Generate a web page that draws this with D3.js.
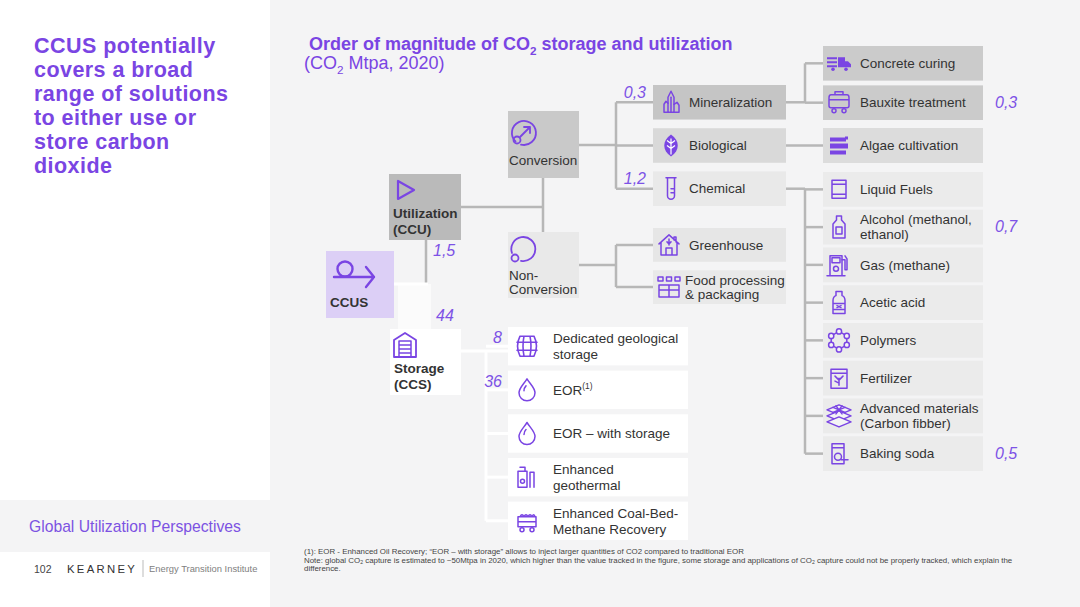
<!DOCTYPE html>
<html><head><meta charset="utf-8">
<script src="https://cdn.jsdelivr.net/npm/d3@7"></script>
<style>
html,body{margin:0;padding:0;background:#fff;}
svg{display:block;font-family:"Liberation Sans",Arial,Helvetica,sans-serif;}
</style></head><body>
<svg id="c" width="1080" height="607"></svg>
<script>
// ================= DATA =================
const headline = ["CCUS potentially","covers a broad","range of solutions","to either use or","store carbon","dioxide"];
const chartTitle = "Order of magnitude of CO₂ storage and utilization";
const chartSubtitle = "(CO₂ Mtpa, 2020)";
const rootLabel = "CCUS";
const topCategories = ["Utilization\n(CCU)", "Storage\n(CCS)"];
const topValues = [1.5, 44];
const utilizationPaths = ["Conversion", "Non-\nConversion"];
const conversionKids = ["Mineralization","Biological","Chemical"];
const conversionValues = [0.3, null, 1.2];
const nonConversionKids = ["Greenhouse","Food processing\n& packaging"];
const nonConversionValues = [null, null];
const mineralizationUses = ["Concrete curing","Bauxite treatment"];
const mineralizationValues = [null, 0.3];
const biologicalUses = ["Algae cultivation"];
const biologicalValues = [null];
const chemicalUses = ["Liquid Fuels","Alcohol (methanol,\nethanol)","Gas (methane)","Acetic acid","Polymers","Fertilizer","Advanced materials\n(Carbon fibber)","Baking soda"];
const chemicalValues = [null, 0.7, null, null, null, null, null, 0.5];
const storageKids = ["Dedicated geological\nstorage","EOR|(1)","EOR – with storage","Enhanced\ngeothermal","Enhanced Coal-Bed-\nMethane Recovery"];
const storageValues = [8, 36, null, null, null];
const footnotes = [
  "(1): EOR - Enhanced Oil Recovery; “EOR – with storage” allows to inject larger quantities of CO2 compared to traditional EOR",
  "Note: global CO₂ capture is estimated to ~50Mtpa in 2020, which higher than the value tracked in the figure, some storage and applications of CO₂ capture could not be properly tracked, which explain the",
  "difference."
];
const sectionLabel = "Global Utilization Perspectives";
const pageNumber = "102";
const brand = "KEARNEY";
const brandSub = "Energy Transition Institute";

// ================= STYLE =================
const PURPLE = "#7a45e3";
const NUMC = "#7d52e6";
const LINEC = "#b7b7b7";
const TEXTC = "#333333";
const BG = "#f4f4f5";
const fmt = d3.formatLocale({decimal:",", thousands:".", grouping:[3], currency:["",""]}).format("~g");

const svg = d3.select("#c");

// backgrounds
svg.append("rect").attr("x",270).attr("y",0).attr("width",810).attr("height",607).attr("fill",BG);
svg.append("rect").attr("x",0).attr("y",500).attr("width",270).attr("height",52).attr("fill",BG);

// rich text with subscript 2
function rich(sel, str, size) {
  const parts = str.split("₂");
  let pending = 0;
  parts.forEach((p, i) => {
    const t = sel.append("tspan").text(p);
    if (pending) { t.attr("dy", pending); pending = 0; }
    if (i < parts.length - 1) {
      sel.append("tspan").attr("font-size", size*0.65).attr("dy", size*0.25).text("2");
      pending = -size*0.25;
    }
  });
}

// ---------- left panel ----------
svg.append("g").selectAll("text").data(headline).join("text")
  .attr("x",34).attr("y",(d,i)=>53+i*24)
  .attr("font-size",21.5).attr("letter-spacing",0.45).attr("font-weight","bold").attr("fill",PURPLE).text(d=>d);

svg.append("text").attr("x",29).attr("y",532).attr("font-size",15.7).attr("fill","#7c52e2").text(sectionLabel);
svg.append("text").attr("x",34).attr("y",573).attr("font-size",10.5).attr("fill","#444").text(pageNumber);
svg.append("text").attr("x",67).attr("y",573).attr("font-size",11.3).attr("letter-spacing",2.3).attr("fill","#333").text(brand);
svg.append("line").attr("x1",143).attr("x2",143).attr("y1",560).attr("y2",577).attr("stroke","#bbb").attr("stroke-width",1);
svg.append("text").attr("x",149).attr("y",572).attr("font-size",9.4).attr("fill","#808080").text(brandSub);

// ---------- titles ----------
const t1 = svg.append("text").attr("x",309).attr("y",50).attr("font-size",18).attr("font-weight","bold").attr("fill",PURPLE);
rich(t1, chartTitle, 18);
const t2 = svg.append("text").attr("x",304).attr("y",69).attr("font-size",18).attr("fill",PURPLE);
rich(t2, chartSubtitle, 18);

// footnotes
svg.append("g").selectAll("text").data(footnotes).join("text")
  .attr("x",304).attr("y",(d,i)=>554+i*8.5).attr("font-size",7.9).attr("fill","#444")
  .each(function(d){ rich(d3.select(this), d, 7.9); });

// ================= ICONS =================
function icon(g, type) {
  const s = sel => sel.attr("fill","none").attr("stroke",PURPLE).attr("stroke-width",1.5)
    .attr("stroke-linejoin","round").attr("stroke-linecap","round");
  const f = sel => sel.attr("fill",PURPLE).attr("stroke","none");
  const P = d => s(g.append("path").attr("d",d));
  const F = d => f(g.append("path").attr("d",d));
  switch(type){
    case "ccus":
      s(g.append("circle").attr("cx",-10).attr("cy",-5).attr("r",7.5)).attr("stroke-width",2.4);
      P("M-21,3 H19 M11,-7 L19,3 L11,13").attr("stroke-width",2.4); break;
    case "play":
      P("M-8,-9 L-8,9 L8,0 Z").attr("stroke-width",2.2); break;
    case "conv":
      P("M-8.5,8.5 A12,12 0 1 1 -3,11.6").attr("stroke-width",1.8);
      s(g.append("circle").attr("cx",-7).attr("cy",7).attr("r",3.5)).attr("stroke-width",1.8);
      P("M-4,4 L6,-6 M0,-6 H6 V0").attr("stroke-width",1.8); break;
    case "nonconv":
      P("M-11,4 A12,12 0 1 1 -2,11.8").attr("stroke-width",1.8);
      s(g.append("circle").attr("cx",-8).attr("cy",9).attr("r",3.5)).attr("stroke-width",1.8); break;
    case "store":
      P("M-11,12 V-5 L0,-12 L11,-5 V12 Z").attr("stroke-width",1.8);
      P("M-6,12 V-4 H6 V12 M-6,0 H6 M-6,4 H6 M-6,8 H6").attr("stroke-width",1.5); break;
    case "mineral":
      P("M-3,10 V-5 L0,-11 L3,-5 V10 Z M-3,10 H3");
      P("M-3,10 H-7 V2 L-5,-1 L-3,1");
      P("M3,10 H8 V3 L6,0 L3,2");
      P("M0,-5 V10"); break;
    case "leaf":
      F("M0,-11 C9,-5 9,5 0,11 C-9,5 -9,-5 0,-11 Z");
      g.append("path").attr("d","M0,-7 V9 M0,-2 L-4,-5 M0,-2 L4,-5 M0,3 L-4,0 M0,3 L4,0").attr("stroke","#fff").attr("stroke-width",1.2).attr("fill","none"); break;
    case "tube":
      P("M-5,-11 H5 M-3.5,-11 V7 A3.5,3.5 0 0 0 3.5,7 V-11 M0,0 H3.5 M0,4 H3.5"); break;
    case "house":
      P("M-10,-1 L0,-10 L10,-1 M-8,-3 V10 H8 V-3 M-3,10 V3 H3 V10 M5,-8 V-5 M5,-8 H7 V-3"); 
      P("M0,-6 V0 M-2,-3 L0,-1 L2,-3"); break;
    case "food":
      P("M-11,-10 h5 v4 h-5 Z M-2.5,-10 h5 v4 h-5 Z M6,-10 h5 v4 h-5 Z");
      P("M-10,-2 H10 V10 H-10 Z M-10,3 H10 M0,-2 V10"); break;
    case "truck":
      F("M-12,-6 h10 v2 h-10 Z M-12,-2 h10 v2 h-10 Z M-12,2 h10 v2 h-10 Z");
      F("M-1,-6 h7 v10 h-7 Z M6,-2 h3 l3,3 v3 h-6 Z");
      f(g.append("circle").attr("cx",-6).attr("cy",6).attr("r",1.8));
      f(g.append("circle").attr("cx",7).attr("cy",6).attr("r",1.8)); break;
    case "tank":
      P("M-8,-8 H8 Q10,-8 10,-5 V3 Q10,5 8,5 H-8 Q-10,5 -10,3 V-5 Q-10,-8 -8,-8 Z M-10,-3 H10 M-4,-8 V-11 H4 V-8");
      s(g.append("circle").attr("cx",-5).attr("cy",8).attr("r",2));
      s(g.append("circle").attr("cx",5).attr("cy",8).attr("r",2)); break;
    case "algae":
      F("M-9,-8 h16 v4 h-16 Z M-9,-2 h18 v5 h-18 Z M-9,5 h16 v4 h-16 Z");
      F("M6,-9 h3 v3 h-3 Z"); break;
    case "fuel":
      P("M-7,-9 H7 V9 H-7 Z M-7,-5 H7 M-7,5 H7"); break;
    case "bottle":
      P("M-2.5,-11 H2.5 V-7 L6,-3 V11 H-6 V-3 L-2.5,-7 Z M-3,0 H3 V7 H-3 Z"); break;
    case "pump":
      P("M-9,11 V-9 H3 V11 Z M-7,-7 H1 V-2 H-7 Z M-12,11 H6");
      s(g.append("circle").attr("cx",-3).attr("cy",4).attr("r",2.5));
      P("M3,-5 H6 V5 H8 V-6 L6,-9"); break;
    case "acetic":
      P("M-3,-11 H3 V-7 Q6,-6 6,-2 V11 H-6 V-2 Q-6,-6 -3,-7 Z M-6,1 H6 M-6,7 H6");
      P("M-2,3 L2,5 M2,3 L-2,5"); break;
    case "poly": {
      const pts = d3.range(6).map(i=>[9*Math.cos(Math.PI/3*i-Math.PI/2), 9*Math.sin(Math.PI/3*i-Math.PI/2)]);
      P("M"+pts.map(p=>p.join(",")).join("L")+"Z");
      pts.forEach(p=> g.append("circle").attr("cx",p[0]).attr("cy",p[1]).attr("r",2.6).attr("fill",BG).attr("stroke",PURPLE).attr("stroke-width",1.5));
      break; }
    case "bag":
      P("M-8,-9 H8 V10 H-8 Z M-8,-5 H8");
      P("M0,7 V0 M0,2 L-4,-2 M0,2 L4,-2 M-4,3 L0,5"); break;
    case "layers":
      [-6,0,6].forEach(dy => P(`M-12,${dy} L0,${dy-5} L12,${dy} L0,${dy+5} Z`).attr("fill",BG));
      P("M-6,-8.5 L6,-3.5 M6,-8.5 L-6,-3.5 M-3,-10 L3,-2 M3,-10 L-3,-2"); break;
    case "soda":
      P("M-7,-10 H5 V10 H-7 Z M-7,-6 H5");
      s(g.append("circle").attr("cx",-1).attr("cy",3).attr("r",3.5));
      P("M2,6 L9,6"); break;
    case "barrel":
      P("M-7,-10 H7 Q12,0 7,10 H-7 Q-12,0 -7,-10 Z M-3,-10 Q-5,0 -3,10 M3,-10 Q5,0 3,10 M-10,-4 H10 M-10,4 H10").attr("stroke-width",1.6); break;
    case "drop":
      P("M0,-11 C3,-6 8,-2 8,3 A8,8 0 0 1 -8,3 C-8,-2 -3,-6 0,-11 Z M-3,1 Q-3,-2 -1,-4"); break;
    case "geo":
      P("M-9,-6 H0 V10 H-9 Z M-7,-10 H-2 V-6 M3,-5 V10 M7,-5 V10 M3,-5 H7");
      s(g.append("circle").attr("cx",-4.5).attr("cy",4).attr("r",2)); break;
    case "cart":
      P("M-9,-4 H9 V6 H-9 Z M-9,1 H9 M-7,-4 Q-5,-8 -3,-4 Q-1,-8 1,-4 Q3,-8 5,-4 Q7,-8 8,-4");
      s(g.append("circle").attr("cx",-5).attr("cy",9).attr("r",2));
      s(g.append("circle").attr("cx",5).attr("cy",9).attr("r",2)); break;
  }
}

// ================= LAYOUT (scales) =================
const midX = 653, midW = 133, rightX = 823, rightW = 160, storX = 508, storW = 180;
const yConv = d3.scaleBand().domain(conversionKids).range([85,206]).paddingInner(0.2);
const yNon = d3.scaleBand().domain(nonConversionKids).range([228,304]).paddingInner(0.2);
const yMin = d3.scaleBand().domain(mineralizationUses).range([46,120]).paddingInner(0.12);
const yBio = d3.scaleBand().domain(biologicalUses).range([128,163]);
const yChem = d3.scaleBand().domain(chemicalUses).range([172,471]).paddingInner(0.08);
const yStor = d3.scaleBand().domain(storageKids).range([327,540]).paddingInner(0.12);
const mid = (sc, d) => sc(d) + sc.bandwidth()/2;

const boxes = {
  ccus: {x:326,y:251,w:68,h:67, fill:"#dccff6"},
  util: {x:389,y:174,w:72,h:66, fill:"#bababa"},
  stor: {x:390,y:329,w:71,h:66, fill:"#ffffff"},
  conv: {x:508,y:111,w:71,h:67, fill:"#c9c9c9"},
  non:  {x:508,y:232,w:71,h:66, fill:"#e9e9e9"}
};

// ================= CONNECTORS =================
const conn = svg.append("g").attr("fill","none").attr("stroke",LINEC).attr("stroke-width",2.5);
const seg = (g, pts) => g.append("path").attr("d", d3.line()(pts));
// white storage connectors
const wconn = svg.append("g").attr("fill","none").attr("stroke","#ffffff").attr("stroke-width",3);
svg.insert("rect", "g").attr("x",398).attr("y",284).attr("width",33).attr("height",45).attr("fill","#fbfbfb");
seg(wconn, [[394,284],[428,284]]);
seg(wconn, [[461,351],[508,351]]);
seg(wconn, [[486,351],[486,mid(yStor,storageKids[4])]]);
storageKids.forEach(d => seg(wconn, [[486,mid(yStor,d)],[storX,mid(yStor,d)]]));

// utilization trunk
seg(conn, [[426,240],[426,284]]);
seg(conn, [[461,207],[543,207]]);
seg(conn, [[543,178],[543,232]]);
// conversion
seg(conn, [[579,145],[616,145]]);
seg(conn, [[616,mid(yConv,conversionKids[0])],[616,mid(yConv,conversionKids[2])]]);
conversionKids.forEach(d => seg(conn, [[616,mid(yConv,d)],[midX,mid(yConv,d)]]));
// non-conversion
seg(conn, [[579,265],[616,265]]);
seg(conn, [[616,mid(yNon,nonConversionKids[0])],[616,mid(yNon,nonConversionKids[1])]]);
nonConversionKids.forEach(d => seg(conn, [[616,mid(yNon,d)],[midX,mid(yNon,d)]]));
// mineralization -> uses
const jx = 805;
seg(conn, [[midX+midW,mid(yConv,"Mineralization")],[jx,mid(yConv,"Mineralization")]]);
seg(conn, [[jx,mid(yMin,mineralizationUses[0])],[jx,mid(yConv,"Mineralization")]]);
mineralizationUses.forEach(d => seg(conn, [[jx,mid(yMin,d)],[rightX,mid(yMin,d)]]));
// biological -> algae
seg(conn, [[midX+midW,mid(yConv,"Biological")],[rightX,mid(yConv,"Biological")]]);
// chemical -> uses
seg(conn, [[midX+midW,mid(yConv,"Chemical")],[jx,mid(yConv,"Chemical")]]);
seg(conn, [[jx,mid(yConv,"Chemical")],[jx,mid(yChem,chemicalUses[chemicalUses.length-1])]]);
chemicalUses.forEach(d => seg(conn, [[jx,mid(yChem,d)],[rightX,mid(yChem,d)]]));

// ================= BOXES =================
function multiText(g, label, x, cy, size, lh, weight) {
  const lines = label.split("\n");
  const t = g.append("text").attr("font-size",size).attr("fill",TEXTC).attr("font-weight",weight||"normal");
  const y0 = cy - (lines.length-1)*lh/2 + size*0.35;
  lines.forEach((ln,i) => {
    const parts = ln.split("|");
    t.append("tspan").attr("x",x).attr("y",y0+i*lh).text(parts[0]);
    if (parts[1]) t.append("tspan").attr("font-size",size*0.62).attr("dy",-size*0.38).text(parts[1]);
  });
}

function drawItems(names, scale, x, w, fills, icons, values, opts) {
  const g = svg.append("g");
  names.forEach((d,i) => {
    const y = scale(d), h = scale.bandwidth(), cy = y + h/2;
    g.append("rect").attr("x",x).attr("y",y).attr("width",w).attr("height",h).attr("fill",fills[i]);
    icon(g.append("g").attr("transform",`translate(${x+opts.iconDx},${cy})`), icons[i]);
    multiText(g, d, x+(opts.textDxs ? opts.textDxs[i] : opts.textDx), cy, opts.size, opts.lh);
    if (values && values[i] != null) {
      const p = opts.valPos(y, h, cy);
      g.append("text").attr("x",p[0]).attr("y",p[1]).attr("text-anchor",p[2])
        .attr("font-size",16).attr("font-style","italic").attr("fill",NUMC).text(fmt(values[i]));
    }
  });
}

// middle column
drawItems(conversionKids, yConv, midX, midW, ["#c5c5c5","#d9d9d9","#e9e9e9"], ["mineral","leaf","tube"], conversionValues,
  {iconDx:18, textDx:36, size:13.5, lh:15, valPos:(y,h,cy)=>[midX-7, y+13, "end"]});
drawItems(nonConversionKids, yNon, midX, midW, ["#e6e6e6","#e9e9e9"], ["house","food"], nonConversionValues,
  {iconDx:16, textDxs:[36,32], size:13.5, lh:14.5, valPos:(y,h,cy)=>[midX-7, y+13, "end"]});
// right column
const rightOpts = {iconDx:16, textDx:37, size:13.5, lh:15, valPos:(y,h,cy)=>[rightX+rightW+12, cy+5, "start"]};
drawItems(mineralizationUses, yMin, rightX, rightW, ["#cbcbcb","#cbcbcb"], ["truck","tank"], mineralizationValues, rightOpts);
drawItems(biologicalUses, yBio, rightX, rightW, ["#dcdcdc"], ["algae"], biologicalValues, rightOpts);
drawItems(chemicalUses, yChem, rightX, rightW, chemicalUses.map(()=> "#ebebeb"),
  ["fuel","bottle","pump","acetic","poly","bag","layers","soda"], chemicalValues, rightOpts);
// storage column
drawItems(storageKids, yStor, storX, storW, storageKids.map(()=>"#ffffff"),
  ["barrel","drop","drop","geo","cart"], storageValues,
  {iconDx:19, textDx:45, size:13.5, lh:16, valPos:(y,h,cy)=>[storX-6, y+16, "end"]});

// level boxes
const lg = svg.append("g");
Object.values(boxes).forEach(b => lg.append("rect").attr("x",b.x).attr("y",b.y).attr("width",b.w).attr("height",b.h).attr("fill",b.fill));
function boxLabel(b, label, baseline, lh, weight) {
  const t = lg.append("text").attr("font-size",13.5).attr("font-weight",weight).attr("fill",TEXTC);
  label.split("\n").forEach((ln,i)=> t.append("tspan").attr("x",b.x+(weight==="bold"?4:1)).attr("y",b.y+baseline+i*lh).text(ln));
}
icon(lg.append("g").attr("transform",`translate(${boxes.ccus.x+29},${boxes.ccus.y+23})`), "ccus");
boxLabel(boxes.ccus, rootLabel, 56, 16, "bold");
icon(lg.append("g").attr("transform",`translate(${boxes.util.x+17},${boxes.util.y+16})`), "play");
boxLabel(boxes.util, topCategories[0], 44, 16, "bold");
icon(lg.append("g").attr("transform",`translate(${boxes.stor.x+15},${boxes.stor.y+16})`), "store");
boxLabel(boxes.stor, topCategories[1], 44, 16, "bold");
icon(lg.append("g").attr("transform",`translate(${boxes.conv.x+16},${boxes.conv.y+22})`), "conv");
boxLabel(boxes.conv, utilizationPaths[0], 54, 14, "normal");
icon(lg.append("g").attr("transform",`translate(${boxes.non.x+15},${boxes.non.y+17})`), "nonconv");
boxLabel(boxes.non, utilizationPaths[1], 48, 14, "normal");

// top-level values
const topValPos = [[boxes.util.x+44, boxes.util.y+boxes.util.h+16],[boxes.stor.x+46, boxes.stor.y-8]];
topValues.forEach((v,i)=> svg.append("text").attr("x",topValPos[i][0]).attr("y",topValPos[i][1])
  .attr("font-size",16).attr("font-style","italic").attr("fill",NUMC).text(fmt(v)));
</script>
</body></html>
